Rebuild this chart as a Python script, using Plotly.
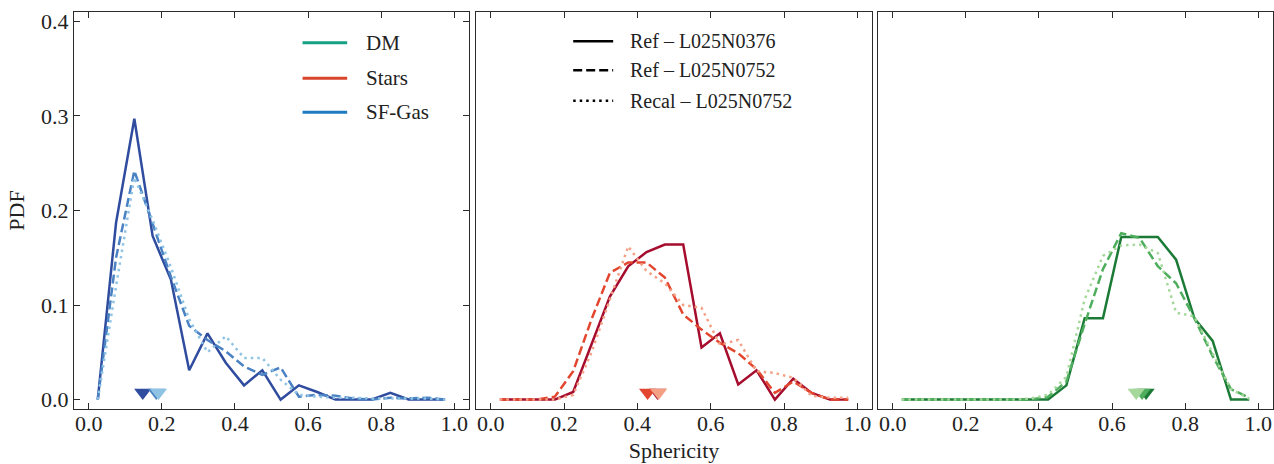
import plotly.graph_objects as go

# ---------------- data ----------------
sphericity_bins = [0.025, 0.075, 0.125, 0.175, 0.225, 0.275, 0.325, 0.375, 0.425, 0.475,
                   0.525, 0.575, 0.625, 0.675, 0.725, 0.775, 0.825, 0.875, 0.925, 0.975]

gas_ref376 = [0.0, 0.187, 0.297, 0.173, 0.127, 0.031, 0.070, 0.039, 0.015, 0.031,
              0.0, 0.015, 0.008, 0.0, 0.0, 0.0, 0.007, 0.0, 0.0, 0.0]
gas_ref752 = [0.0, 0.150, 0.242, 0.185, 0.130, 0.078, 0.063, 0.051, 0.035, 0.026,
              0.034, 0.003, 0.005, 0.004, 0.001, 0.0, 0.002, 0.001, 0.002, 0.0]
gas_recal752 = [0.0, 0.120, 0.235, 0.190, 0.140, 0.085, 0.050, 0.067, 0.044, 0.044,
                0.021, 0.005, 0.003, 0.002, 0.002, 0.001, 0.001, 0.001, 0.001, 0.0]

stars_ref376 = [0.0, 0.0, 0.0, 0.0, 0.008, 0.058, 0.109, 0.141, 0.156, 0.164,
                0.164, 0.055, 0.070, 0.016, 0.031, 0.0, 0.022, 0.007, 0.0, 0.0]
stars_ref752 = [0.0, 0.0, 0.0, 0.003, 0.030, 0.085, 0.134, 0.145, 0.145, 0.129,
                0.090, 0.074, 0.060, 0.049, 0.032, 0.007, 0.019, 0.007, 0.0, 0.0]
stars_recal752 = [0.0, 0.0, 0.0, 0.0, 0.005, 0.050, 0.106, 0.162, 0.136, 0.123,
                  0.100, 0.097, 0.058, 0.063, 0.030, 0.028, 0.023, 0.004, 0.002, 0.002]

dm_ref376 = [0.0, 0.0, 0.0, 0.0, 0.0, 0.0, 0.0, 0.0, 0.0, 0.015,
             0.086, 0.086, 0.172, 0.172, 0.172, 0.148, 0.086, 0.062, 0.0, 0.0]
dm_ref752 = [0.0, 0.0, 0.0, 0.0, 0.0, 0.0, 0.0, 0.0, 0.003, 0.019,
             0.080, 0.138, 0.176, 0.171, 0.141, 0.123, 0.086, 0.046, 0.011, 0.002]
dm_recal752 = [0.0, 0.0, 0.0, 0.0, 0.0, 0.0, 0.0, 0.001, 0.005, 0.024,
               0.106, 0.152, 0.163, 0.164, 0.155, 0.092, 0.088, 0.049, 0.011, 0.001]

# medians (solid, dashed, dotted runs)
gas_medians = [0.148, 0.185, 0.191]
stars_medians = [0.455, 0.428, 0.458]
dm_medians = [0.693, 0.682, 0.666]
median_marker_level = 0.0075

x_ticks = [0.0, 0.2, 0.4, 0.6, 0.8, 1.0]
x_tick_labels = ["0.0", "0.2", "0.4", "0.6", "0.8", "1.0"]
y_ticks = [0.0, 0.1, 0.2, 0.3, 0.4]
y_tick_labels = ["0.0", "0.1", "0.2", "0.3", "0.4"]

component_names = ["DM", "Stars", "SF-Gas"]
component_colors = ["#16a085", "#d9442b", "#1f7bc0"]
run_names = ["Ref \u2013 L025N0376", "Ref \u2013 L025N0752", "Recal \u2013 L025N0752"]

# ---------------- styling ----------------
FONT = "Liberation Serif"
dash_styles = ["solid", "9px,4px", "2.5px,4px"]
panel_palettes = [
    ["#2f4c9f", "#4a82c3", "#8fc3e3"],   # SF-Gas (Blues)
    ["#a50c2e", "#e2462f", "#f4a084"],   # Stars (Reds)
    ["#1b7a36", "#4fae5d", "#a6d89c"],   # DM (Greens)
]
panel_series = [
    [gas_ref376, gas_ref752, gas_recal752],
    [stars_ref376, stars_ref752, stars_recal752],
    [dm_ref376, dm_ref752, dm_recal752],
]
panel_medians = [gas_medians, stars_medians, dm_medians]
axis_ids = [("x", "y"), ("x2", "y2"), ("x3", "y3")]

fig = go.Figure()
for p in range(3):
    xa, ya = axis_ids[p]
    for r in range(3):
        fig.add_trace(go.Scatter(
            x=sphericity_bins, y=panel_series[p][r], mode="lines",
            line=dict(color=panel_palettes[p][r], width=2.5, dash=dash_styles[r]),
            xaxis=xa, yaxis=ya, showlegend=False, hoverinfo="skip"))
    for r in range(3):
        fig.add_trace(go.Scatter(
            x=[panel_medians[p][r]], y=[median_marker_level], mode="markers",
            marker=dict(symbol="triangle-down", size=15, color=panel_palettes[p][r],
                        line=dict(width=0)),
            xaxis=xa, yaxis=ya, showlegend=False, hoverinfo="skip"))

# ---------------- axes ----------------
line_col = "#2b2b2b"
domains = [[0.0, 0.3294], [0.3353, 0.6656], [0.6706, 1.0]]
TICKFONT = dict(family=FONT, size=22, color="#222")
common_x = dict(range=[-0.04, 1.04], tickvals=x_ticks, ticktext=x_tick_labels,
                ticks="inside", ticklen=6, tickwidth=1.3, tickcolor=line_col,
                mirror="ticks", showline=True, linecolor=line_col, linewidth=1.3,
                showgrid=False, zeroline=False, automargin=False,
                ticklabelstandoff=-6, tickfont=TICKFONT)
common_y = dict(range=[-0.01, 0.41], tickvals=y_ticks, ticktext=y_tick_labels,
                showline=True, linecolor=line_col, linewidth=1.3,
                showgrid=False, zeroline=False, domain=[0, 1], automargin=False,
                tickfont=TICKFONT)

fig.update_layout(
    xaxis=dict(common_x, domain=domains[0], anchor="y"),
    xaxis2=dict(common_x, domain=domains[1], anchor="y2",
                title=dict(text="Sphericity", standoff=8,
                           font=dict(family=FONT, size=22, color="#222"))),
    xaxis3=dict(common_x, domain=domains[2], anchor="y3"),
    yaxis=dict(common_y, anchor="x", ticks="inside", ticklen=6, tickwidth=1.3,
               tickcolor=line_col, mirror="ticks",
               title=dict(text="PDF", standoff=10,
                          font=dict(family=FONT, size=22, color="#222"))),
    yaxis2=dict(common_y, anchor="x2", ticks="", showticklabels=False, mirror=True,
                matches="y"),
    yaxis3=dict(common_y, anchor="x3", ticks="", showticklabels=False, mirror=True,
                matches="y"),
)

# ---------------- legends (drawn manually inside panels) ----------------
leg1_rows = [0.3775, 0.340, 0.304]
for i in range(3):
    fig.add_shape(type="line", xref="x", yref="y", x0=0.585, x1=0.707,
                  y0=leg1_rows[i], y1=leg1_rows[i],
                  line=dict(color=component_colors[i], width=3))
    fig.add_annotation(xref="x", yref="y", x=0.752, y=leg1_rows[i],
                       text=component_names[i], showarrow=False,
                       xanchor="left", yanchor="middle",
                       font=dict(family=FONT, size=21, color="#222"))

leg2_rows = [0.379, 0.3485, 0.316]
for i in range(3):
    fig.add_shape(type="line", xref="x2", yref="y2", x0=0.225, x1=0.334,
                  y0=leg2_rows[i], y1=leg2_rows[i],
                  line=dict(color="black", width=2.5, dash=dash_styles[i]))
    fig.add_annotation(xref="x2", yref="y2", x=0.375, y=leg2_rows[i],
                       text=run_names[i], showarrow=False,
                       xanchor="left", yanchor="middle",
                       font=dict(family=FONT, size=20, color="#222"))

fig.update_layout(
    width=1274, height=464,
    margin=dict(l=74, r=1, t=12, b=55, pad=0),
    paper_bgcolor="white", plot_bgcolor="white",
    showlegend=False,
    font=dict(family=FONT, size=20, color="#222"),
)

fig.write_html("out.html",
               config={"displayModeBar": False},
               post_script="document.body.style.margin='0px';"
                           "document.body.style.overflow='hidden';")
